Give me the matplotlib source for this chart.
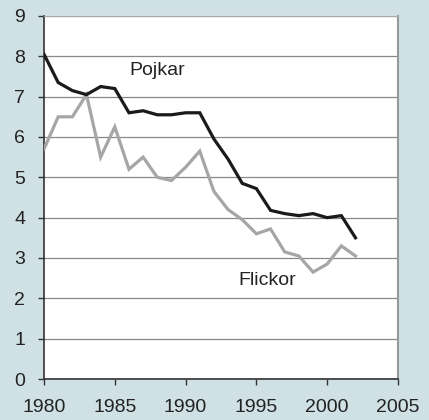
import numpy as np
import matplotlib.pyplot as plt

plt.rcParams['font.family'] = ['Liberation Sans', 'DejaVu Sans']

years = list(range(1980, 2003))
pojkar = [8.05, 7.35, 7.15, 7.05, 7.25, 7.2, 6.6, 6.65, 6.55, 6.55, 6.6, 6.6,
          5.95, 5.45, 4.85, 4.72, 4.18, 4.1, 4.05, 4.1, 4.0, 4.05, 3.5]
flickor = [5.7, 6.5, 6.5, 7.05, 5.5, 6.25, 5.2, 5.5, 5.0, 4.92, 5.25, 5.65,
           4.65, 4.2, 3.95, 3.6, 3.72, 3.15, 3.05, 2.65, 2.85, 3.3, 3.05]
xticks = [1980, 1985, 1990, 1995, 2000, 2005]
yticks = list(range(0, 10))

bg = '#d0e1e6'
fig = plt.figure(figsize=(4.29, 4.20), dpi=100, facecolor=bg)
ax = fig.add_axes([0.1026, 0.0976, 0.8251, 0.8644])
ax.set_facecolor('white')

ax.plot(years, flickor, color='#a6a6a6', lw=2.3, solid_joinstyle='miter', zorder=3)
ax.plot(years, pojkar, color='#1a1a1a', lw=2.3, solid_joinstyle='miter', zorder=4)

ax.set_xlim(1980, 2005)
ax.set_ylim(0, 9)
ax.set_xticks(xticks)
ax.set_yticks(yticks)
ax.yaxis.grid(True, color='#888888', lw=0.9)
ax.set_axisbelow(True)

for s in ['left', 'bottom']:
    ax.spines[s].set_color('#333333')
    ax.spines[s].set_linewidth(1.2)
ax.spines['right'].set_color('#999999')
ax.spines['right'].set_linewidth(1.5)
ax.spines['top'].set_color('#aaaaaa')
ax.spines['top'].set_linewidth(0.8)

ax.tick_params(axis='both', direction='out', length=4.5, width=1, color='#333333',
               labelsize=14, labelcolor='#222222')
ax.tick_params(axis='x', pad=10)
ax.tick_params(axis='y', pad=9)

ax.text(1986.0, 7.53, 'Pojkar', fontsize=14, color='#222222', va='baseline', ha='left')
ax.text(1993.7, 2.33, 'Flickor', fontsize=14, color='#222222', va='baseline', ha='left')

fig.savefig('out.png', dpi=100, facecolor=bg)
